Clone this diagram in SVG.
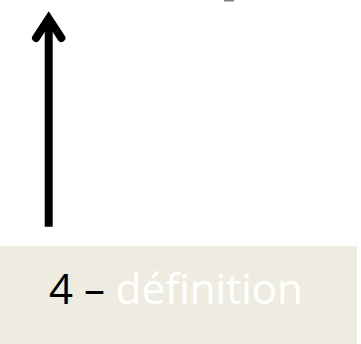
<svg xmlns="http://www.w3.org/2000/svg" width="361" height="344" viewBox="0 0 361 344">
<style>
.lbl{font-family:"Open Sans","Noto Sans","Liberation Sans",sans-serif;font-size:42px;font-variant-ligatures:none}
</style>
<rect x="0" y="0" width="361" height="344" fill="#FFFFFF"/>
<rect x="224" y="0" width="10" height="1.5" fill="#808080"/>
<g id="connectors">
<line x1="48.7" y1="18" x2="48.7" y2="226.7" stroke="#000" stroke-width="8"/>
<path d="M36,38 L48.7,18.5 L61.4,38" fill="none" stroke="#000" stroke-width="8" stroke-linecap="round" stroke-linejoin="miter"/>
</g>
<g id="node-definition">
<rect x="0" y="246" width="357" height="98" fill="#EEECE1"/>
<text class="lbl" x="49" y="304.3"><tspan fill="#000">4 – </tspan><tspan fill="#FFFFFF">définition</tspan></text>
</g>
</svg>
